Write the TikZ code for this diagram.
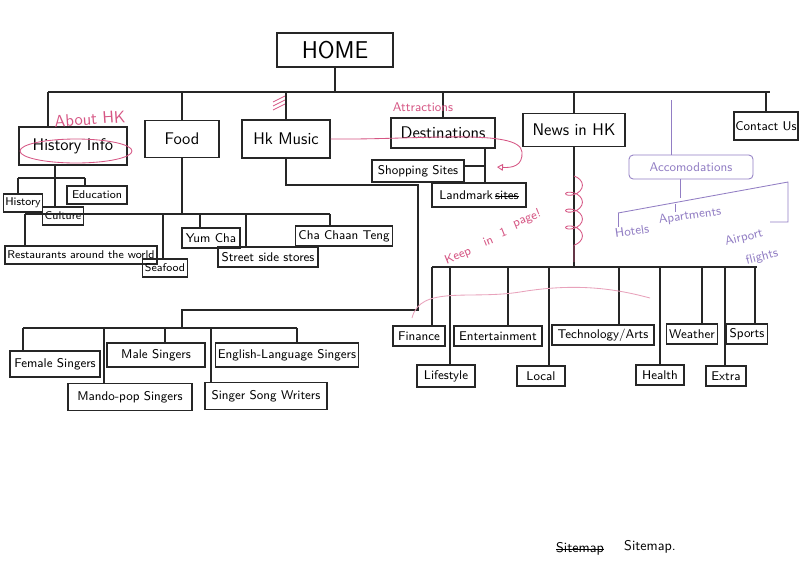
\documentclass[tikz,border=0pt]{standalone}
\usepackage{fontspec}
\usetikzlibrary{positioning,arrows.meta,decorations.pathmorphing}
\definecolor{penpink}{RGB}{214,86,132}
\definecolor{penviolet}{RGB}{146,126,196}
\newcommand\strikeword[1]{\setbox0\hbox{#1}\rlap{\rule[0.55ex]{\wd0}{0.5pt}}\box0}

\begin{document}
\begin{tikzpicture}[x=0.025cm, y=-0.025cm,
    box/.style={draw=black!85, thick, inner sep=2pt, font=\sffamily\small},
    topbox/.style={box, minimum height=0.85cm, font=\sffamily\large},
    subbox/.style={box, minimum height=0.5cm},
    tinybox/.style={box, minimum height=0.45cm, inner sep=1.5pt, font=\sffamily\footnotesize},
    edge/.style={draw=black!85, thick},
    note/.style={text=penpink, font=\sffamily},
    pinkline/.style={draw=penpink, semithick},
    plan/.style={draw=penviolet, semithick},
    plannote/.style={text=penviolet, font=\sffamily\small}]

    \useasboundingbox[fill=white] (0,0) rectangle (800,581);

    % Home and main sections
    \node[box, minimum width=2.9cm, minimum height=0.85cm, font=\sffamily\LARGE\addfontfeature{LetterSpace=25.0}] (home) at (335,50) {HOME};
    \node[topbox, minimum width=2.7cm, minimum height=0.95cm] (hist) at (73,146) {History Info};
    \node[topbox, minimum width=1.85cm, minimum height=0.92cm] (food) at (182,139) {Food};
    \node[topbox, minimum width=2.2cm, minimum height=0.95cm] (music) at (286,139) {Hk Music};
    \node[topbox, minimum width=2.6cm, minimum height=0.75cm] (dest) at (443,133) {Destinations};
    \node[topbox, minimum width=2.55cm, minimum height=0.82cm] (news) at (574,130) {News in HK};
    \node[topbox, minimum width=1.6cm, minimum height=0.7cm, inner sep=1pt, font=\sffamily\small] (contact) at (766,126) {Contact Us};

    % History Info
    \node[tinybox] (history) at (23,203) {History};
    \node[tinybox] (culture) at (63,216) {Culture};
    \node[tinybox, minimum width=1.5cm] (edu) at (97,195) {Education};

    % Food
    \node[tinybox, minimum width=3.8cm] (rest) at (81,255) {Restaurants around the world};
    \node[tinybox] (seafood) at (165,268) {Seafood};
    \node[subbox, minimum width=1.45cm] (yumcha) at (211,238) {Yum Cha};
    \node[subbox, minimum width=2.5cm] (street) at (268,257) {Street side stores};
    \node[subbox, minimum width=2.3cm] (chachaan) at (344,236) {Cha Chaan Teng};

    % Hk Music
    \node[subbox, minimum width=2.25cm, minimum height=0.65cm] (female) at (55,364) {Female Singers};
    \node[subbox, minimum width=2.45cm, minimum height=0.6cm] (male) at (156,355) {Male Singers};
    \node[subbox, minimum width=3.5cm, minimum height=0.6cm] (english) at (287,355) {English-Language Singers};
    \node[subbox, minimum width=3.1cm, minimum height=0.68cm] (mando) at (130,397) {Mando-pop Singers};
    \node[subbox, minimum width=3.05cm, minimum height=0.68cm] (writers) at (266,396) {Singer Song Writers};

    % Destinations
    \node[subbox, minimum width=2.3cm, minimum height=0.55cm] (shop) at (418,171) {Shopping Sites};
    \node[subbox, minimum width=2.35cm, minimum height=0.6cm] (land) at (479,195) {Landmark\,\strikeword{sites}};

    % News in HK
    \node[subbox, minimum width=1.3cm] (fin) at (419,336) {Finance};
    \node[subbox, minimum width=2.2cm] (ent) at (498,336) {Entertainment};
    \node[subbox, minimum width=2.55cm] (tech) at (603,335) {Technology/Arts};
    \node[subbox, minimum width=1.25cm] (weather) at (692,334) {Weather};
    \node[subbox, minimum width=1.0cm] (sports) at (747,334) {Sports};
    \node[subbox, minimum width=1.45cm, minimum height=0.55cm] (life) at (446,376) {Lifestyle};
    \node[subbox, minimum width=1.2cm, minimum height=0.5cm] (local) at (541,376) {Local};
    \node[subbox, minimum width=1.2cm, minimum height=0.5cm] (health) at (660,375) {Health};
    \node[subbox, minimum width=1.0cm, minimum height=0.5cm] (extra) at (726,376) {Extra};

    % Bus points
    \coordinate (busL) at (48,92);
    \coordinate (busR) at (770,92);
    \coordinate (hbusL) at (18,178);
    \coordinate (hbusR) at (85,178);
    \coordinate (hbusC) at (55,178);
    \coordinate (fbusL) at (25,214);
    \coordinate (fbusR) at (330,214);
    \coordinate (mturn) at (418,185);
    \coordinate (mback) at (182,310);
    \coordinate (mbusL) at (23,328);
    \coordinate (mbusR) at (297,328);
    \coordinate (djoin) at (485,166);
    \coordinate (nbusL) at (432,267);
    \coordinate (nbusR) at (757,267);

    % Top level
    \draw[edge] (home.south) -- (home.south |- busL);
    \draw[edge] (busL) -- (busR);
    \draw[edge] (busL) -- (busL |- hist.north);
    \foreach \n in {food,music,dest,news,contact}
        \draw[edge] (\n.north |- busL) -- (\n.north);

    % History Info children
    \draw[edge] (hbusL) -- (hbusR);
    \draw[edge] (hist.south -| hbusC) -- (hbusC |- culture.north);
    \draw[edge] (hbusL) -- (hbusL |- history.north);
    \draw[edge] (hbusR) -- (hbusR |- edu.north);

    % Food children
    \draw[edge] (food.south) -- (food.south |- fbusL);
    \draw[edge] (fbusL) -- (fbusR);
    \foreach \x/\n in {25/rest,163/seafood,200/yumcha,246/street,330/chachaan}{
        \path (\x,214) coordinate (drop);
        \draw[edge] (drop) -- (drop |- \n.north);
    }

    % Hk Music children
    \draw[edge] (music.south) |- (mturn) -- (mturn |- mback) -- (mback) -- (mback |- mbusL);
    \draw[edge] (mbusL) -- (mbusR);
    \foreach \x/\n in {23/female,104/mando,165/male,211/writers,297/english}{
        \path (\x,328) coordinate (drop);
        \draw[edge] (drop) -- (drop |- \n.north);
    }

    % Destinations children
    \draw[edge] (dest.south -| djoin) -- (djoin |- land.north);
    \draw[edge] (shop.east |- djoin) -- (djoin);

    % News in HK children
    \draw[edge] (news.south) -- (news.south |- nbusL);
    \draw[edge] (nbusL) -- (nbusR);
    \foreach \x/\n in {432/fin,450/life,508/ent,549/local,619/tech,660/health,702/weather,725/extra,755/sports}{
        \path (\x,267) coordinate (drop);
        \draw[edge] (drop) -- (drop |- \n.north);
    }

    % Pink notes
    \node[note, font=\sffamily\large, rotate=4] (abouthk) at (90,119) {About HK};
    \draw[pinkline] (76,151) ellipse [x radius=56, y radius=12];
    \foreach \d in {0,4,8}
        \draw[pinkline] (273,110-\d) -- (285,104-\d);
    \node[note, font=\sffamily\small] (attract) at (423,107) {Attractions};
    \draw[pinkline, -{Triangle[open]}] (music.east) .. controls (420,140) and (520,128) .. (522,152)
        .. controls (523,166) and (512,168) .. (497,167);
    \foreach \w/\x/\y in {Keep/458/256, in/488/241, 1/503/232, page!/527/219}
        \node[note, font=\sffamily\small, rotate=22, inner sep=0pt] at (\x,\y) {\w};
    \draw[pinkline, decorate, decoration={coil, aspect=0.6, segment length=12pt, amplitude=6pt}]
        (574,176) -- (574,262);
    \draw[draw=penpink!55, semithick] (412,318) .. controls (420,285) and (470,300) .. (520,292)
        .. controls (580,282) and (620,290) .. (650,298);

    % Violet plan
    \coordinate (acctop) at (671,100);
    \node[draw=penviolet, semithick, rounded corners=3pt, text=penviolet, font=\sffamily\small,
        minimum width=3.1cm, minimum height=0.6cm] (acc) at (691,167) {Accomodations};
    \draw[plan] (acctop) -- (acctop |- acc.north);
    \coordinate (accj) at (680,198);
    \coordinate (pbusL) at (618,213);
    \coordinate (pbusR) at (788,182);
    \coordinate (pend) at (770,222);
    \draw[plan] (acc.south -| accj) -- (accj);
    \draw[plan] (pbusL) -- (pbusR) -- (pbusR |- pend) -- (pend);
    \draw[plan] (pbusL) -- ++(0,14);
    \draw[plan] (675,204) -- (675,212);
    \node[plannote, rotate=8] (hotels) at (632,231) {Hotels};
    \node[plannote, rotate=8] (apart) at (690,216) {Apartments};
    \node[plannote, rotate=14] (airport) at (744,238) {Airport};
    \node[plannote, rotate=14] (flights) at (762,257) {flights};

    % Footer
    \node[font=\sffamily] (oldtitle) at (580,549) {\strikeword{Sitemap}};
    \node[font=\sffamily] (title) at (650,547) {Sitemap.};
\end{tikzpicture}
\end{document}
